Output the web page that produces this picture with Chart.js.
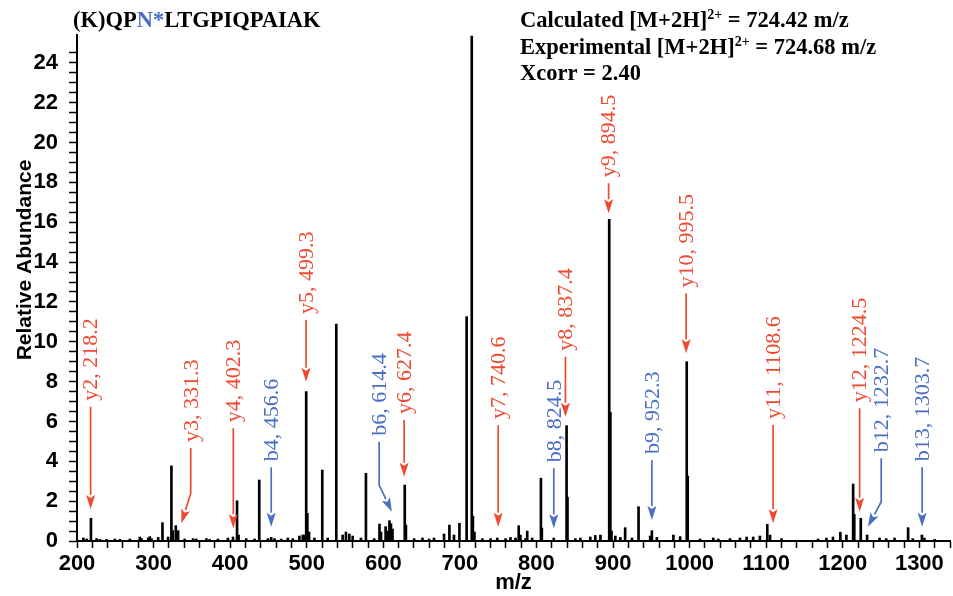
<!DOCTYPE html>
<html>
<head>
<meta charset="utf-8">
<script src="https://cdn.jsdelivr.net/npm/chart.js@4.4.1/dist/chart.umd.min.js"></script>
<style>
  html, body { margin: 0; padding: 0; background: #fff; }
  #wrap { width: 953px; height: 596px; position: relative; }
</style>
</head>
<body>
<div id="wrap"><canvas id="spectrum" width="953" height="596"></canvas></div>
<script>
// Peak list (m/z, relative abundance)
const peakMz = [
  208.3, 212.6, 218.2, 225.6, 229.8, 238.7, 249.5, 256.0, 269.0, 282.0,
  284.2, 293.0, 295.1, 297.3, 306.0, 311.6, 319.0, 323.3, 325.0, 329.0,
  332.0, 340.6, 351.6, 355.8, 369.0, 373.2, 384.0, 397.0, 403.7, 409.0,
  411.0, 421.0, 431.8, 438.0, 449.3, 453.6, 457.9, 466.6, 475.3, 481.8,
  490.4, 494.8, 496.5, 499.3, 500.8, 503.0, 510.0, 520.3, 527.4, 538.6,
  546.9, 551.2, 555.6, 560.0, 570.8, 577.3, 588.1, 595.0, 597.0, 603.0,
  606.0, 608.0, 610.0, 612.0, 628.0, 629.5, 640.2, 651.1, 659.7, 666.2,
  679.3, 686.3, 692.3, 699.4, 708.8, 715.5, 717.0, 719.0, 729.3, 740.1,
  748.8, 759.6, 766.1, 772.6, 776.8, 779.0, 785.7, 787.9, 794.4, 805.8,
  807.0, 822.6, 839.3, 840.5, 850.8, 857.3, 870.3, 876.8, 883.5, 895.0,
  896.5, 898.0, 903.0, 909.5, 915.8, 924.7, 933.3, 948.5, 950.7, 957.2,
  978.8, 987.6, 996.2, 997.5, 1013.6, 1030.9, 1037.5, 1052.7, 1065.7, 1074.4,
  1083.0, 1091.7, 1101.4, 1105.0, 1120.0, 1167.7, 1178.6, 1187.2, 1196.8, 1204.7,
  1213.5, 1215.0, 1223.5, 1231.8, 1248.0, 1256.7, 1267.6, 1285.3, 1291.4, 1303.3,
  1306.6, 1320.0
];
const peakAbundance = [
  0.15, 0.10, 1.14, 0.12, 0.08, 0.08, 0.10, 0.08, 0.10, 0.20,
  0.12, 0.15, 0.22, 0.12, 0.18, 0.92, 0.20, 3.77, 0.52, 0.77,
  0.52, 0.10, 0.12, 0.10, 0.12, 0.08, 0.10, 0.15, 0.20, 2.02,
  0.30, 0.12, 0.10, 3.06, 0.12, 0.18, 0.12, 0.10, 0.15, 0.12,
  0.25, 0.30, 0.30, 7.50, 1.39, 0.45, 0.15, 3.56, 0.15, 10.89,
  0.30, 0.45, 0.35, 0.25, 0.15, 3.40, 0.12, 0.85, 0.45, 0.72,
  0.50, 1.02, 0.87, 0.60, 2.81, 0.80, 0.12, 0.15, 0.10, 0.15,
  0.35, 0.80, 0.30, 0.89, 11.26, 25.35, 1.25, 0.45, 0.12, 0.12,
  0.15, 0.12, 0.18, 0.15, 0.77, 0.30, 0.12, 0.50, 0.15, 3.15,
  0.65, 0.15, 5.79, 2.19, 0.12, 0.15, 0.20, 0.28, 0.30, 16.15,
  6.46, 0.50, 0.25, 0.18, 0.67, 0.15, 1.72, 0.25, 0.52, 0.18,
  0.30, 0.22, 9.00, 3.26, 0.10, 0.15, 0.10, 0.12, 0.15, 0.20,
  0.20, 0.25, 0.84, 0.30, 0.12, 0.10, 0.15, 0.20, 0.44, 0.30,
  2.86, 1.34, 1.14, 0.30, 0.15, 0.12, 0.15, 0.67, 0.12, 0.30,
  0.15, 0.08
];

// Fragment ion annotations
const ionLabels = [
  'y2, 218.2', 'y3, 331.3', 'y4, 402.3', 'b4, 456.6', 'y5, 499.3', 'b6, 614.4',
  'y6, 627.4', 'y7, 740.6', 'b8, 824.5', 'y8, 837.4', 'y9, 894.5', 'b9, 952.3',
  'y10, 995.5', 'y11, 1108.6', 'y12, 1224.5', 'b12, 1232.7', 'b13, 1303.7'
];
const ionSeries = ['y', 'y', 'y', 'b', 'y', 'b', 'y', 'y', 'b', 'y', 'y', 'b', 'y', 'y', 'y', 'b', 'b'];
const ionArrowMz = [217.8, 348.5, 404.1, 453.6, 499.1, 594.6, 627.2, 750.0, 822.6, 837.8, 894.2, 950.7, 995.4, 1109.0, 1222.0, 1250.2, 1303.6];
const ionArrowTop = [6.74, 4.67, 5.66, 3.70, 11.09, 4.98, 6.07, 5.82, 3.65, 9.25, 17.96, 4.07, 12.43, 5.82, 6.66, 4.15, 3.70];
const ionArrowBend = [null, 2.39, null, null, null, 2.81, null, null, null, null, null, null, null, null, null, 1.97, null];
const ionTipMz = [217.8, 336.3, 404.1, 453.6, 499.1, 611.2, 627.2, 750.0, 822.6, 837.8, 894.2, 950.7, 995.4, 1109.0, 1222.0, 1232.8, 1303.6];
const ionTipAbundance = [1.61, 0.89, 0.64, 0.72, 8.00, 1.47, 3.23, 0.72, 0.64, 6.24, 16.45, 1.05, 9.42, 0.89, 1.47, 0.72, 0.72];

const RED = '#ef4a31';
const BLUE = '#4a6fc3';
const SANS = '"Liberation Sans", Arial, sans-serif';
const SERIF = '"Liberation Serif", "Times New Roman", serif';

// arrows + rotated ion labels
const ionPlugin = {
  id: 'ionLabels',
  afterDatasetsDraw(chart) {
    const { ctx, scales: { x, y } } = chart;
    ctx.save();
    ionLabels.forEach((label, i) => {
      const color = ionSeries[i] === 'y' ? RED : BLUE;
      const ax = x.getPixelForValue(ionArrowMz[i]);
      const top = y.getPixelForValue(ionArrowTop[i]);
      const tx = x.getPixelForValue(ionTipMz[i]);
      const ty = y.getPixelForValue(ionTipAbundance[i]);
      ctx.strokeStyle = color;
      ctx.fillStyle = color;
      ctx.lineWidth = 1.7;

      let fromX = ax, fromY = top;
      ctx.beginPath();
      ctx.moveTo(ax, top);
      if (ionArrowBend[i] !== null) {
        fromY = y.getPixelForValue(ionArrowBend[i]);
        ctx.lineTo(ax, fromY);
      }
      const ang = Math.atan2(ty - fromY, tx - fromX);
      const headLen = 14, headW = 4.5;
      const bx = tx - headLen * Math.cos(ang);
      const by = ty - headLen * Math.sin(ang);
      ctx.lineTo(bx, by);
      ctx.stroke();

      ctx.beginPath();
      ctx.moveTo(tx, ty);
      ctx.lineTo(bx + headW * Math.sin(ang), by - headW * Math.cos(ang));
      ctx.lineTo(bx + 3 * Math.cos(ang), by + 3 * Math.sin(ang));
      ctx.lineTo(bx - headW * Math.sin(ang), by + headW * Math.cos(ang));
      ctx.closePath();
      ctx.fill();

      ctx.save();
      ctx.translate(ax, top - 6);
      ctx.rotate(-Math.PI / 2);
      ctx.font = '22px ' + SERIF;
      ctx.textAlign = 'left';
      ctx.textBaseline = 'middle';
      ctx.fillText(label, 0, 1);
      ctx.restore();
    });
    ctx.restore();
  },
  afterDraw(chart) {
    const ctx = chart.ctx;
    ctx.save();
    ctx.textBaseline = 'alphabetic';
    ctx.textAlign = 'left';

    const runs = (x, y, parts) => {
      parts.forEach(p => {
        ctx.font = p.font;
        ctx.fillStyle = p.color || '#000';
        ctx.fillText(p.text, x, y + (p.dy || 0));
        x += ctx.measureText(p.text).width;
      });
    };
    const big = 'bold 22.5px ' + SERIF;
    const sup = 'bold 14px ' + SERIF;

    // peptide sequence
    runs(73, 27, [
      { text: '(K)QP', font: big },
      { text: 'N*', font: big, color: BLUE },
      { text: 'LTGPIQPAIAK', font: big }
    ]);

    // search result box
    runs(520, 27, [
      { text: 'Calculated [M+2H]', font: big },
      { text: '2+', font: sup, dy: -8 },
      { text: ' = 724.42 m/z', font: big }
    ]);
    runs(520, 53.5, [
      { text: 'Experimental [M+2H]', font: big },
      { text: '2+', font: sup, dy: -8 },
      { text: ' = 724.68 m/z', font: big }
    ]);
    runs(520, 80, [{ text: 'Xcorr = 2.40', font: big }]);

    // y axis title
    ctx.translate(31, 260);
    ctx.rotate(-Math.PI / 2);
    ctx.textAlign = 'center';
    ctx.fillStyle = '#000';
    ctx.font = 'bold 21px ' + SANS;
    ctx.fillText('Relative Abundance', 0, 0);
    ctx.restore();
  }
};

const onStep = (v, step) => Math.abs(v / step - Math.round(v / step)) < 1e-6;

new Chart(document.getElementById('spectrum'), {
  type: 'bar',
  data: {
    datasets: [{
      data: peakMz.map((m, i) => ({ x: m, y: peakAbundance[i] })),
      backgroundColor: '#000',
      borderWidth: 0,
      barThickness: 2,
      grouped: false
    }]
  },
  options: {
    responsive: false,
    animation: false,
    devicePixelRatio: 1,
    layout: { padding: { top: 35, right: 1, left: 0, bottom: 0 } },
    plugins: {
      legend: { display: false },
      tooltip: { enabled: false }
    },
    scales: {
      x: {
        type: 'linear',
        min: 200,
        max: 1340,
        offset: false,
        afterFit: s => { s.height = 55; },
        afterBuildTicks: s => { s.ticks = s.ticks.filter(t => onStep(t.value, 20)); },
        ticks: {
          stepSize: 20,
          autoSkip: false,
          maxRotation: 0,
          padding: 3,
          color: '#000',
          font: { family: SANS, size: 22, weight: 'bold' },
          callback: v => (onStep(v, 100) ? String(Math.round(v)) : '')
        },
        grid: { drawOnChartArea: false, offset: false, tickLength: 7, tickColor: '#000', tickWidth: 1.5 },
        border: { color: '#000', width: 2 },
        title: {
          display: true,
          text: 'm/z',
          color: '#000',
          padding: 0,
          font: { family: SANS, size: 22, weight: 'bold' }
        }
      },
      y: {
        type: 'linear',
        min: 0,
        max: 25.4,
        afterFit: s => { s.width = 77; },
        afterBuildTicks: s => { s.ticks = s.ticks.filter(t => onStep(t.value, 0.5)); },
        ticks: {
          stepSize: 0.5,
          autoSkip: false,
          padding: 11,
          color: '#000',
          font: { family: SANS, size: 22, weight: 'bold' },
          callback: v => (onStep(v, 2) ? String(Math.round(v)) : '')
        },
        grid: { drawOnChartArea: false, tickLength: 8, tickColor: '#000', tickWidth: 1.5 },
        border: { color: '#000', width: 2 }
      }
    }
  },
  plugins: [ionPlugin]
});
</script>
</body>
</html>
